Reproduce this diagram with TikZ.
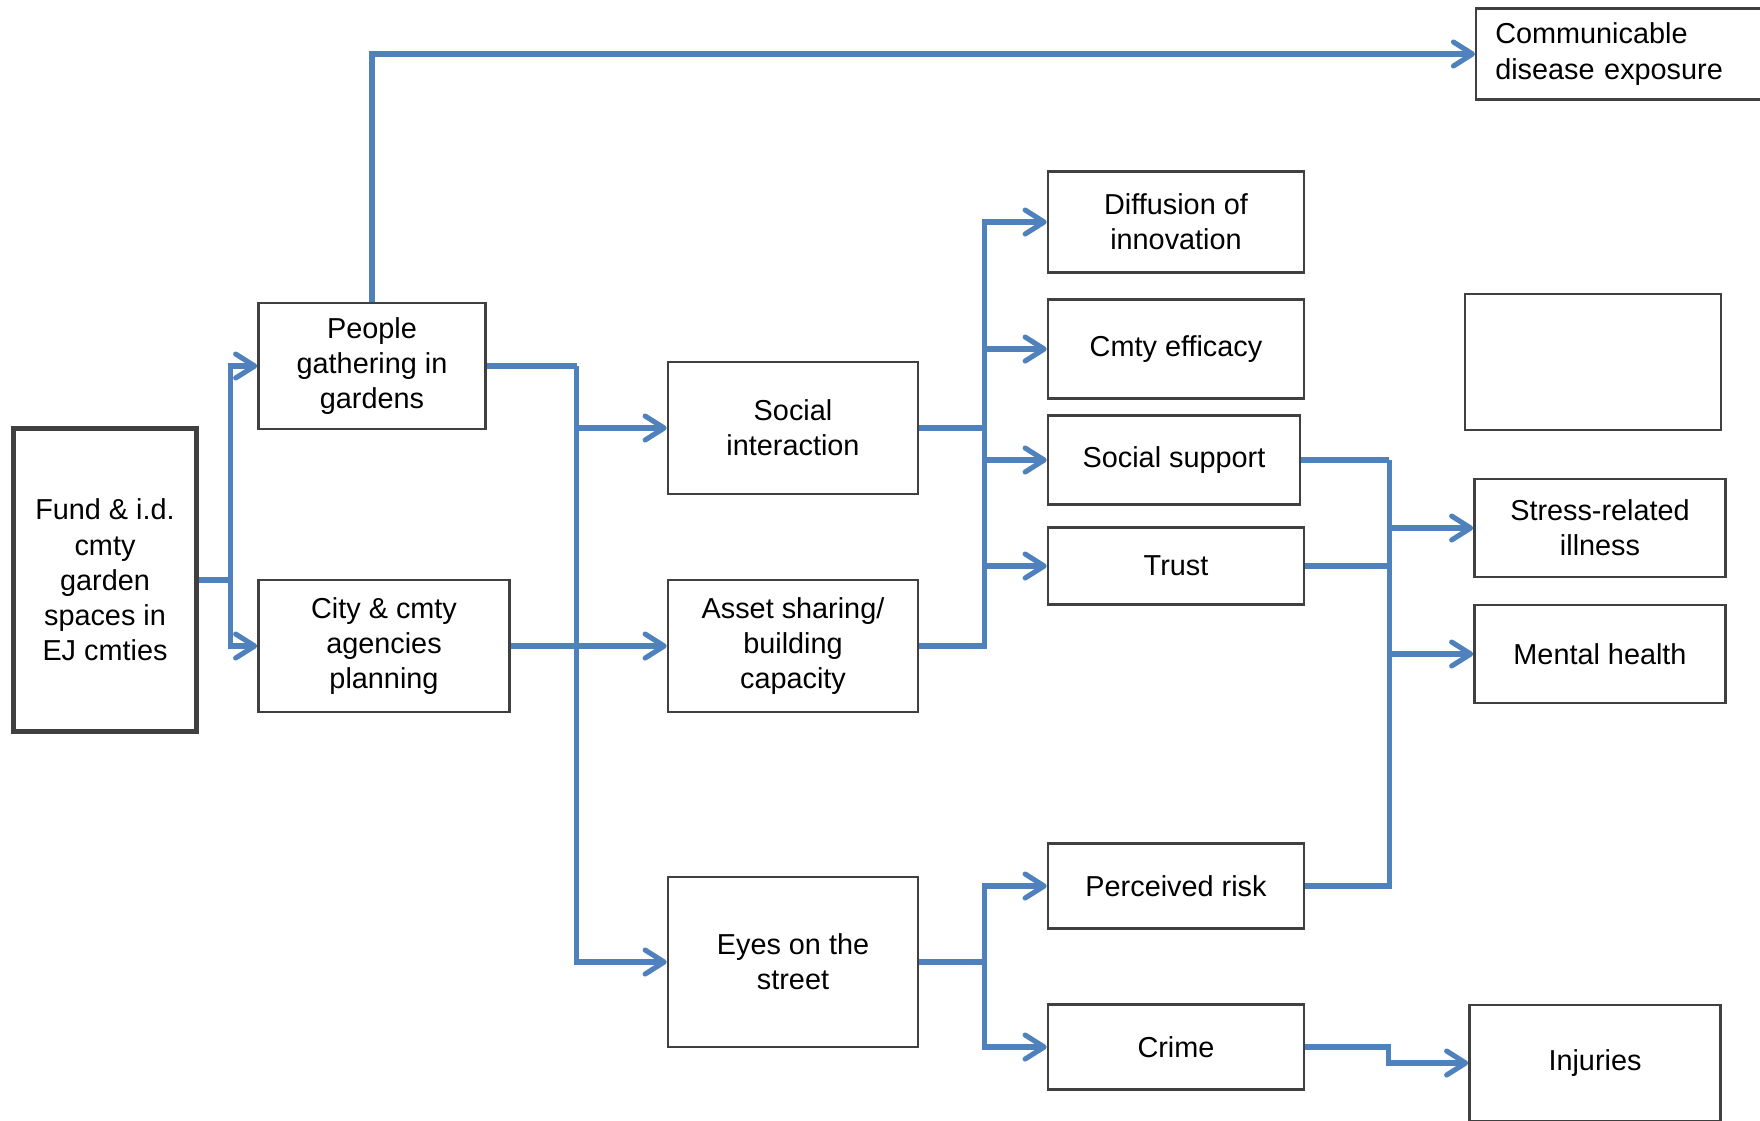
\documentclass[tikz,border=0pt]{standalone}
\usepackage{fontspec}
\setmainfont{Liberation Sans}
\usepackage{tikz}
\usetikzlibrary{calc,positioning,arrows.meta}
\definecolor{linkblue}{RGB}{79,129,189}
\definecolor{boxgray}{RGB}{64,64,64}

\begin{document}
\begin{tikzpicture}[x=0.01cm,y=-0.01cm,>={Straight Barb[length=1.9mm,width=2.4mm,round]},
  box/.style={draw=boxgray,line width=0.7pt,align=center,inner sep=0pt,font=\fontsize{8.2}{10}\selectfont},
  link/.style={draw=linkblue,line width=1.45pt}]
\clip (0,0) rectangle (1760,1120);

\node[box,line width=1.6pt,minimum width=1.83cm,minimum height=3.03cm] (fund) at (105,580) {Fund \& i.d.\\cmty\\garden\\spaces in\\EJ cmties};

\node[box,minimum width=2.27cm,minimum height=1.26cm] (gath) at (372,366) {People\\gathering in\\gardens};
\node[box,minimum width=2.51cm,minimum height=1.32cm] (city) at (384,646) {City \& cmty\\agencies\\planning};

\node[box,minimum width=2.50cm,minimum height=1.32cm] (socint) at (793,428) {Social\\interaction};
\node[box,minimum width=2.50cm,minimum height=1.32cm] (asset) at (793,646) {Asset sharing/\\building\\capacity};
\node[box,minimum width=2.50cm,minimum height=1.70cm] (eyes) at (793,962) {Eyes on the\\street};

\node[box,minimum width=2.56cm,minimum height=1.01cm] (diff) at (1176,222) {Diffusion of\\innovation};
\node[box,minimum width=2.56cm,minimum height=0.99cm] (eff) at (1176,349) {Cmty efficacy};
\node[box,minimum width=2.52cm,minimum height=0.89cm] (support) at (1174,460) {Social support};
\node[box,minimum width=2.56cm,minimum height=0.77cm] (trust) at (1176,566) {Trust};
\node[box,minimum width=2.56cm,minimum height=0.85cm] (risk) at (1176,886) {Perceived risk};
\node[box,minimum width=2.56cm,minimum height=0.85cm] (crime) at (1176,1047) {Crime};

\node[box,anchor=west,align=left,text width=2.6cm,inner xsep=0.19cm,minimum height=0.91cm] (comm) at (1475,54) {Communicable\\disease exposure};
\node[box,minimum width=2.56cm,minimum height=1.36cm] (blank) at (1593,362) {};
\node[box,minimum width=2.51cm,minimum height=0.98cm] (stress) at (1600,528) {Stress-related\\illness};
\node[box,minimum width=2.51cm,minimum height=0.98cm] (mental) at (1600,654) {Mental health};
\node[box,minimum width=2.51cm,minimum height=1.16cm] (injur) at (1595,1063) {Injuries};

% first split
\draw[link] (fund.east) -- ++(31,0) coordinate (f1);
\draw[link,->] (f1) |- (gath.west);
\draw[link,->] (f1) |- (city.west);

\draw[link,->] (gath.north) |- (comm.west);
\draw[link] (gath.east) -- ++(90,0) coordinate (g1);
\draw[link,->] (g1) |- (socint.west);
\draw[link,->] (g1) |- (eyes.west);
\draw[link,->] (city.east) -- (asset.west);

% social outcomes
\draw[link] (socint.east) -- ++(65,0) coordinate (s1);
\draw[link] (asset.east) -| (s1);
\draw[link,->] (s1) |- (diff.west);
\draw[link,->] (s1) |- (eff.west);
\draw[link,->] (s1) |- (support.west);
\draw[link,->] (s1) |- (trust.west);

\draw[link] (eyes.east) -- ++(65,0) coordinate (e1);
\draw[link,->] (e1) |- (risk.west);
\draw[link,->] (e1) |- (crime.west);

% health outcomes
\draw[link] (support.east) -- ++(88,0) coordinate (h1);
\draw[link] (trust.east) -| (h1);
\draw[link] (risk.east) -| (h1);
\draw[link,->] (h1) |- (stress.west);
\draw[link,->] (h1) |- (mental.west);
\draw[link,->] (crime.east) -- ++(83,0) |- (injur.west);
\end{tikzpicture}
\end{document}
